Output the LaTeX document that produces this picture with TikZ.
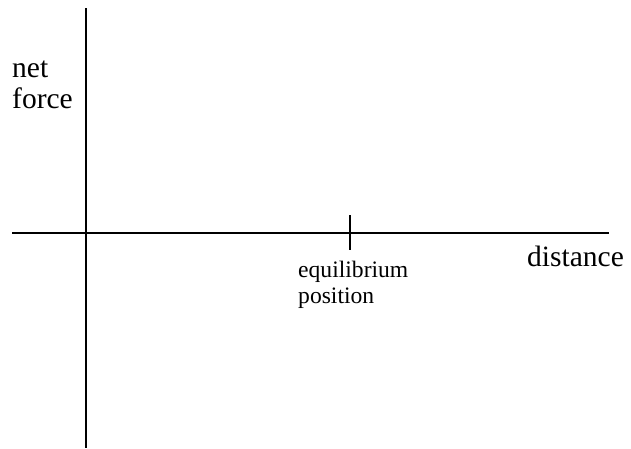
\documentclass[tikz,border=0pt]{standalone}
\usepackage{fontspec}
\setmainfont{Liberation Serif}
\begin{document}
\begin{tikzpicture}[x=1pt,y=-1pt,
  axis/.style={line width=2.8pt, line cap=butt},
  biglabel/.style={inner sep=0pt, anchor=base west, font=\fontsize{29.5}{32}\selectfont},
  smalllabel/.style={inner sep=0pt, anchor=base west, font=\fontsize{23.6}{26}\selectfont}]
\useasboundingbox (0,0) rectangle (631,448);
\coordinate (vtop) at (86,8);
\coordinate (vbot) at (86,448);
\coordinate (hleft) at (12,233);
\coordinate (hright) at (609,233);
\coordinate (ttop) at (350,215);
\coordinate (tbot) at (350,250);
\draw[axis] (vtop) -- (vbot);
\draw[axis] (hleft) -- (hright);
\draw[axis] (ttop) -- (tbot);
\node[biglabel] (net) at (12,77) {net};
\node[biglabel] (force) at (12,108) {force};
\node[biglabel] (dist) at (527,266) {distance};
\node[smalllabel] (eq) at (298,277) {equilibrium};
\node[smalllabel] (pos) at (298,303) {position};
\end{tikzpicture}
\end{document}
